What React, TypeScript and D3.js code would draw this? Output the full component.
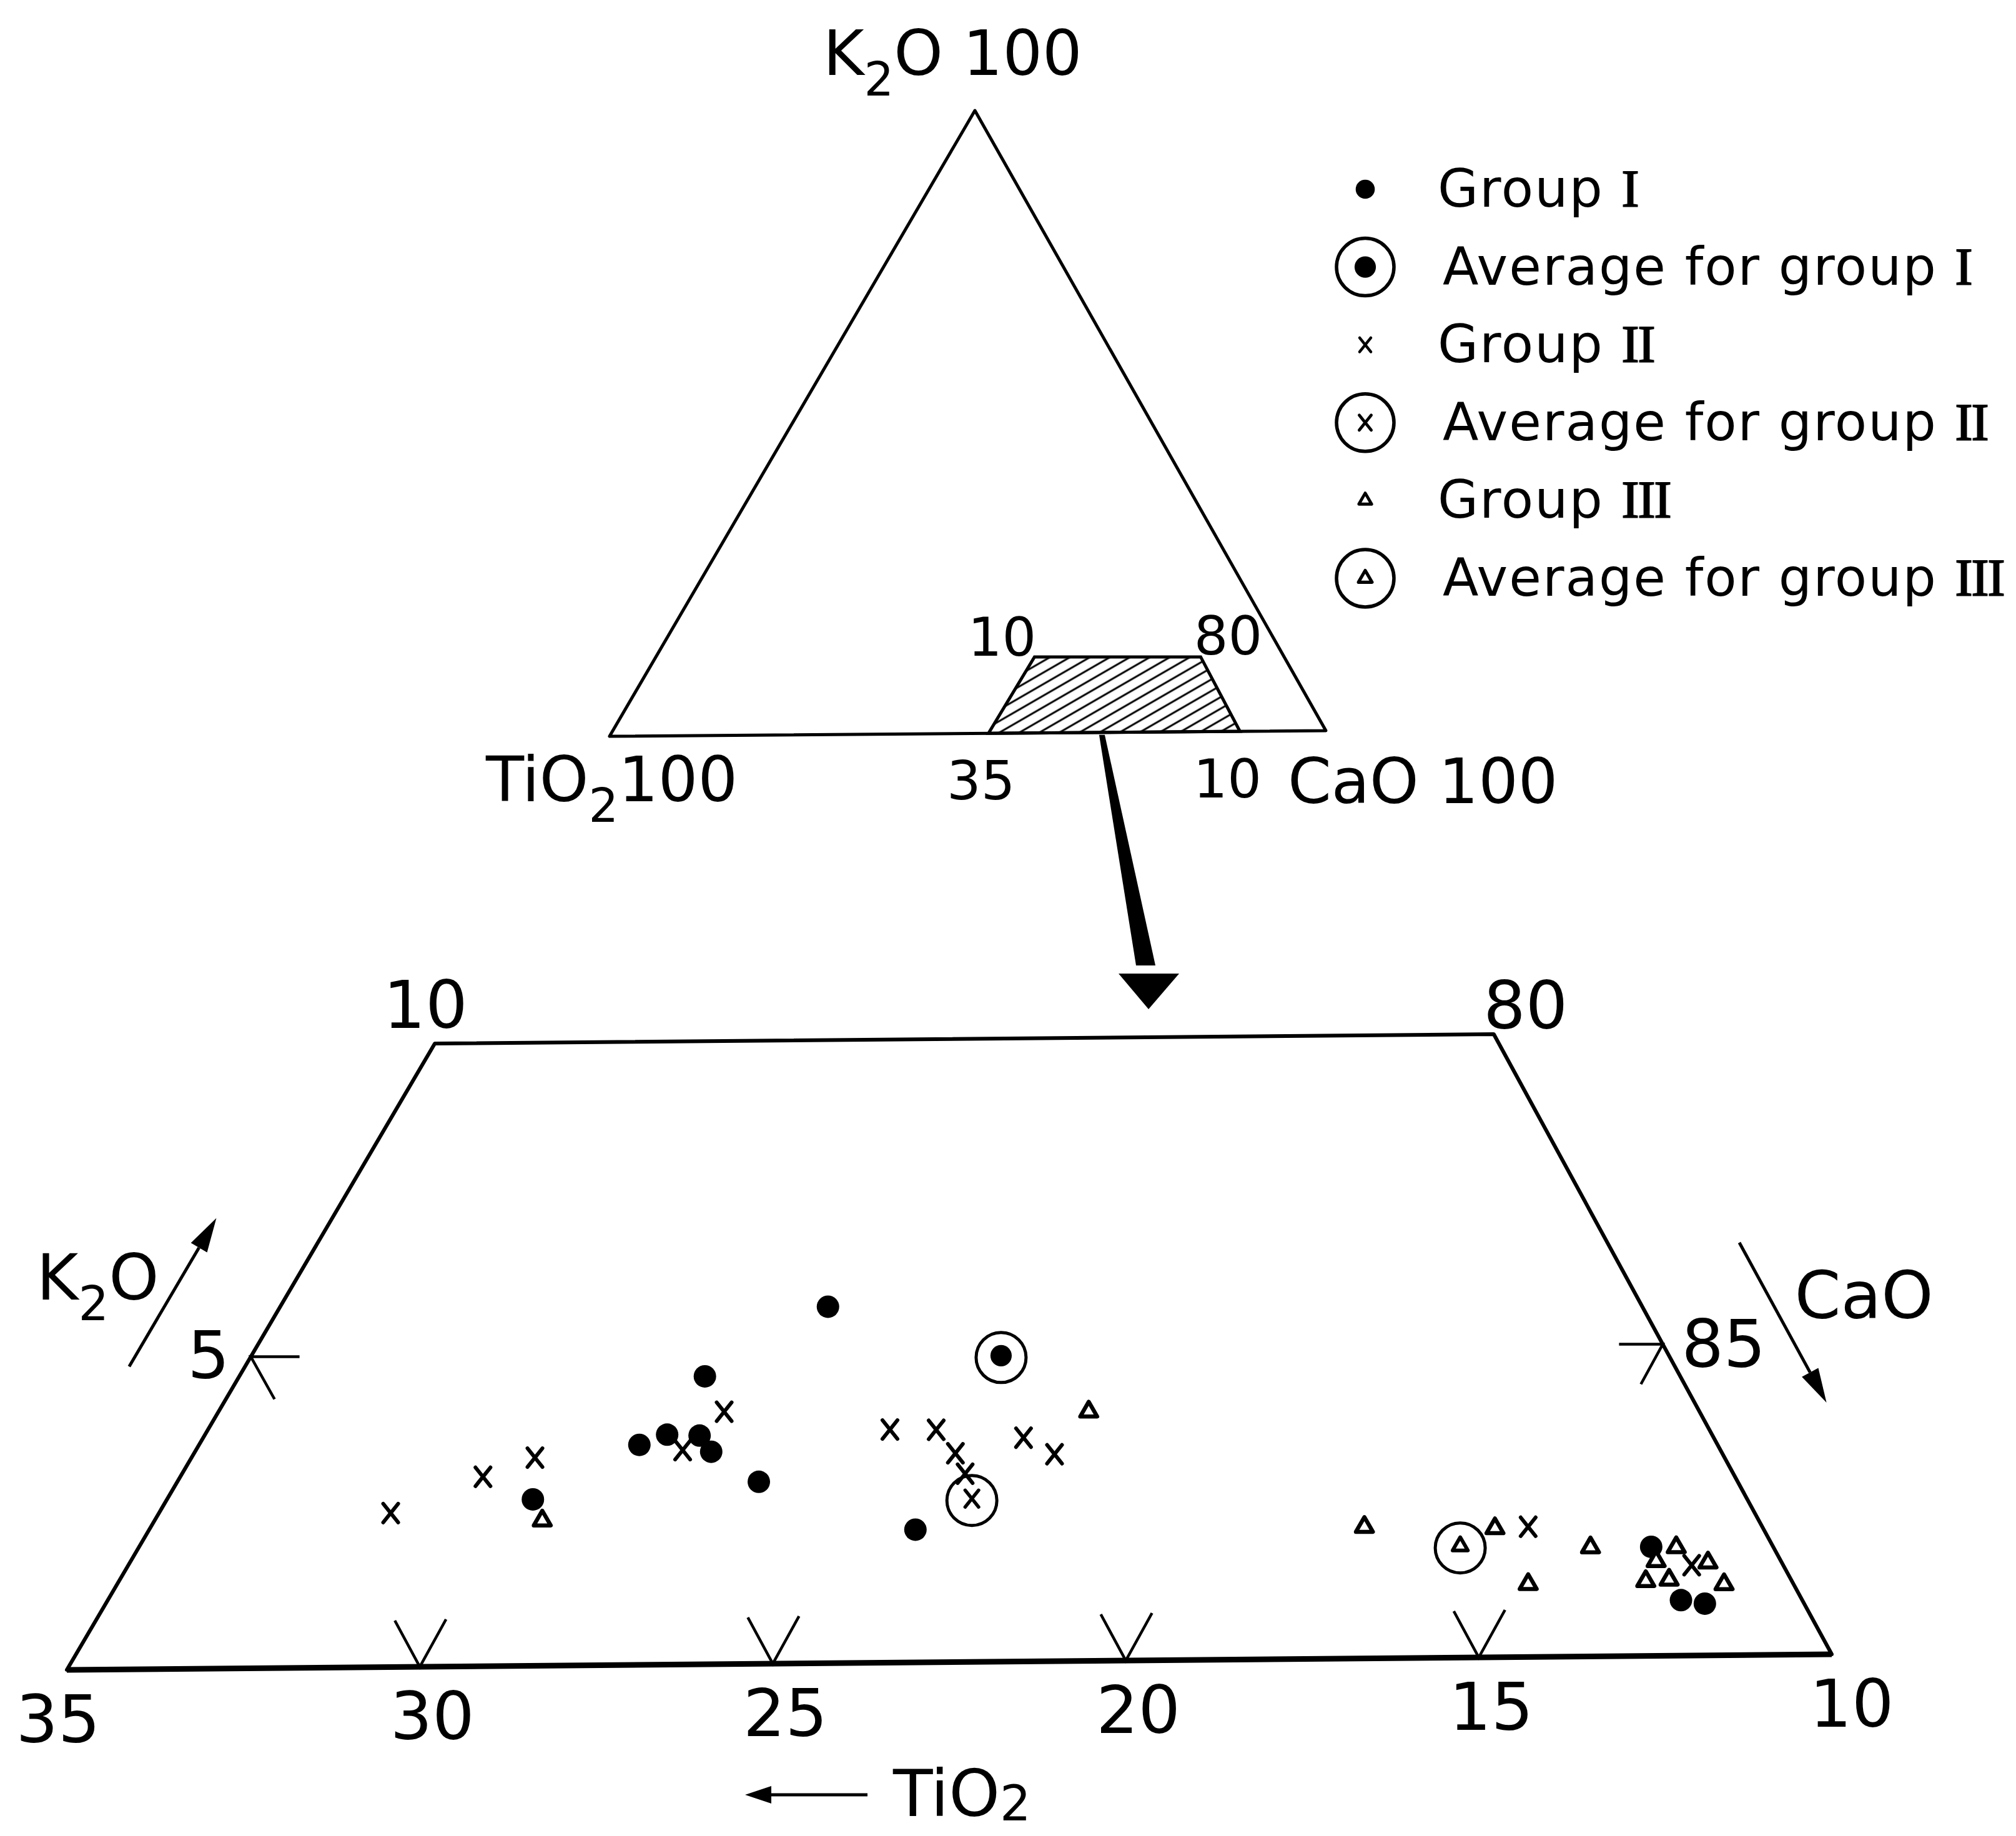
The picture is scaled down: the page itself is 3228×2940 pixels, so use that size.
import { useRef, useEffect } from "react";
import * as d3 from "d3";

const W = 3228;
const H = 2940;

// enlarged window: [TiO2 %, K2O %]  (CaO = 100 - TiO2 - K2O)
const groupI = [
  [27.12, 2.67], [23.75, 4.62], [25.2, 3.53], [24.73, 3.69], [24.28, 3.67],
  [24.24, 3.41], [23.8, 2.92], [21.48, 5.72], [21.96, 2.13], [11.72, 1.75],
  [11.71, 0.89], [11.4, 0.83],
];
const groupII = [
  [29.23, 2.47], [27.65, 3.04], [26.77, 3.34], [23.75, 4.05], [24.63, 3.44],
  [21.55, 3.74], [20.9, 3.73], [20.81, 3.35], [20.83, 3.02], [19.73, 3.59],
  [19.42, 3.32], [13.3, 2.09], [11.29, 1.45],
];
const groupIII = [
  [27.15, 2.33], [18.61, 4.0], [15.61, 2.11], [13.78, 2.07], [12.58, 1.75],
  [13.74, 1.17], [11.37, 1.74], [11.76, 1.52], [12.06, 1.2], [11.72, 1.22],
  [11.04, 1.49], [10.98, 1.14],
];
const avgI = [19.43, 4.88];
const avgII = [20.94, 2.59];
const avgIII = [14.42, 1.76];

const tiTicks = [35, 30, 25, 20, 15, 10];
const tiMarks = [30, 25, 20, 15];

// schematic window drawn in the small triangle: [TiO2, CaO, K2O]
const insetCorners = [
  [47.1, 52.9, 0],
  [12, 88, 0],
  [11.6, 76.4, 12],
  [34.7, 53.1, 12.2],
];
const insetLabels = ["35", "10", "80", "10"];

const legendItems = [
  { kind: "dot", avg: false, text: "Group ", num: "I" },
  { kind: "dot", avg: true, text: "Average for group ", num: "I" },
  { kind: "cross", avg: false, text: "Group ", num: "II" },
  { kind: "cross", avg: true, text: "Average for group ", num: "II" },
  { kind: "tri", avg: false, text: "Group ", num: "III" },
  { kind: "tri", avg: true, text: "Average for group ", num: "III" },
];

const font = "DejaVu Sans";
const serif = "Liberation Serif";

function marker(g: any, kind: string, x: number, y: number, s = 1) {
  if (kind === "dot") {
    g.append("circle").attr("cx", x).attr("cy", y).attr("r", 18 * s).attr("fill", "#000");
  } else if (kind === "cross") {
    const a = 12 * s, b = 15 * s;
    g.append("path")
      .attr("d", `M${x - a},${y - b}L${x + a},${y + b}M${x + a},${y - b}L${x - a},${y + b}`)
      .attr("stroke", "#000")
      .attr("stroke-width", 6 * s)
      .attr("stroke-linecap", "round");
  } else {
    g.append("path")
      .attr("d", d3.symbol(d3.symbolTriangle, 320 * s * s)())
      .attr("transform", `translate(${x},${y})`)
      .attr("fill", "#fff")
      .attr("stroke", "#000")
      .attr("stroke-width", 6.5 * s)
      .attr("stroke-linejoin", "round");
  }
}

// text pieces: [string, subscript shift (em) or true, serif?, letter-spacing]
function label(g: any, x: number, y: number, parts: any[], size: number, anchor = "start", spacing = 0) {
  const t = g.append("text")
    .attr("x", x).attr("y", y)
    .attr("font-size", size)
    .attr("font-family", font)
    .attr("text-anchor", anchor)
    .attr("letter-spacing", spacing)
    .attr("fill", "#000");
  let shift = 0;
  parts.forEach(([s, sub, ser, ls]) => {
    const off = sub ? size * (typeof sub === "number" ? sub : 0.33) : 0;
    const ts = t.append("tspan").attr("dy", off - shift).text(s);
    if (sub) ts.attr("font-size", size * 0.75);
    if (ser) ts.attr("font-family", serif).attr("stroke", "#000").attr("stroke-width", 2);
    if (ls !== undefined) ts.attr("letter-spacing", ls);
    shift = off;
  });
  return t;
}

function arrowHead(g: any, from: number[], to: number[], len = 55, half = 15) {
  const dx = to[0] - from[0], dy = to[1] - from[1];
  const L = Math.hypot(dx, dy);
  const ux = dx / L, uy = dy / L;
  const bx = to[0] - ux * len, by = to[1] - uy * len;
  g.append("path")
    .attr("d", `M${to[0]},${to[1]}L${bx - uy * half},${by + ux * half}L${bx + uy * half},${by - ux * half}Z`)
    .attr("fill", "#000");
  g.append("line")
    .attr("x1", from[0]).attr("y1", from[1])
    .attr("x2", bx).attr("y2", by)
    .attr("stroke", "#000").attr("stroke-width", 5);
}

function App() {
  const ref = useRef<SVGSVGElement | null>(null);

  useEffect(() => {
    if (!ref.current) return;
    const svg = d3.select(ref.current).html("");
    svg.append("rect").attr("width", W).attr("height", H).attr("fill", "#fff");

    const defs = svg.append("defs");
    const pat = defs.append("pattern")
      .attr("id", "hatch")
      .attr("patternUnits", "userSpaceOnUse")
      .attr("width", 16).attr("height", 16)
      .attr("patternTransform", "rotate(-30)");
    pat.append("rect").attr("x", -1).attr("y", 6.5).attr("width", 18).attr("height", 3).attr("fill", "#000");

    // ---------- small full triangle ----------
    const T = { ti: [976, 1179], ca: [2123, 1170], k: [1561, 177] };
    const up = (ti: number, ca: number, k: number) => [
      (ti * T.ti[0] + ca * T.ca[0] + k * T.k[0]) / 100,
      (ti * T.ti[1] + ca * T.ca[1] + k * T.k[1]) / 100,
    ];
    const top = svg.append("g");
    top.append("path")
      .attr("d", d3.line()([up(100, 0, 0), up(0, 100, 0), up(0, 0, 100)] as any) + "Z")
      .attr("fill", "none").attr("stroke", "#000").attr("stroke-width", 5)
      .attr("stroke-linejoin", "round");
    const inset = insetCorners.map((c) => up(c[0], c[1], c[2]));
    top.append("path")
      .attr("d", d3.line()(inset as any) + "Z")
      .attr("fill", "url(#hatch)").attr("stroke", "#000").attr("stroke-width", 5);

    const K0 = up(0, 0, 100), Ti0 = up(100, 0, 0), Ca0 = up(0, 100, 0);
    label(top, K0[0] - 243, K0[1] - 57, [["K"], ["2", true], ["O 100"]], 100);
    label(top, Ti0[0] - 198, Ti0[1] + 104, [["TiO"], ["2", true], ["100"]], 100);
    label(top, Ca0[0] - 61, Ca0[1] + 116, [["CaO 100"]], 100);
    const insetOff = [[-12, 106], [-20, 106], [44, -4], [-52, -2]];
    inset.forEach((p, i) => {
      label(top, p[0] + insetOff[i][0], p[1] + insetOff[i][1], [[insetLabels[i]]], 86, "middle");
    });

    // ---------- enlarged window ----------
    const sx = d3.scaleLinear().domain([65, 90]).range([107, 2933]);
    const sy = d3.scaleLinear().domain([65, 90]).range([2674, 2649]);
    const kx = d3.scaleLinear().domain([0, 10]).range([0, 24]);
    const ky = d3.scaleLinear().domain([0, 10]).range([0, -998]);
    const proj = (ti: number, k: number) => {
      const s = 100 - ti - k / 2;
      return [sx(s) + kx(k), sy(s) + ky(k)];
    };

    // arrow from the small window down to the big one
    const a0 = inset[0], a1 = inset[1];
    const st = [a0[0] + (a1[0] - a0[0]) * 0.45, a0[1] + (a1[1] - a0[1]) * 0.45 + 4];
    const tl = proj(25, 10), tr = proj(10, 10);
    const tip = [tl[0] + (tr[0] - tl[0]) * 0.674, tl[1] + (tr[1] - tl[1]) * 0.674 - 45];
    top.append("path")
      .attr("d", `M${st[0] - 4},${st[1]}L${st[0] + 5},${st[1]}L${tip[0] + 11},${tip[1] - 70}L${tip[0] - 20},${tip[1] - 70}Z`)
      .attr("fill", "#000");
    top.append("path")
      .attr("d", `M${tip[0]},${tip[1]}L${tip[0] - 48},${tip[1] - 57}L${tip[0] + 49},${tip[1] - 57}Z`)
      .attr("fill", "#000");

    const g = svg.append("g");
    const corners = [proj(35, 0), proj(10, 0), proj(10, 10), proj(25, 10)];
    g.append("path")
      .attr("d", d3.line()(corners as any) + "Z")
      .attr("fill", "none").attr("stroke", "#000").attr("stroke-width", 6)
      .attr("stroke-linejoin", "round");
    g.append("line")
      .attr("x1", corners[0][0]).attr("y1", corners[0][1])
      .attr("x2", corners[1][0]).attr("y2", corners[1][1])
      .attr("stroke", "#000").attr("stroke-width", 9);

    // V marks on the TiO2 edge
    tiMarks.forEach((t) => {
      const p = proj(t, 0);
      g.append("path")
        .attr("d", `M${p[0] - 40},${p[1] - 74}L${p[0]},${p[1]}L${p[0] + 42},${p[1] - 76}`)
        .attr("fill", "none").attr("stroke", "#000").attr("stroke-width", 4.5);
    });
    tiTicks.forEach((t) => {
      const p = proj(t, 0);
      const dx = t === 35 ? -14 : t === 10 ? 32 : 20;
      label(g, p[0] + dx, p[1] + 116, [[String(t)]], 106, "middle");
    });

    // K2O = 5 marks on the side edges
    const pl = proj(30, 5), pr = proj(10, 5);
    g.append("path")
      .attr("d", `M${pl[0] + 78},${pl[1]}L${pl[0]},${pl[1]}L${pl[0] + 38},${pl[1] + 68}`)
      .attr("fill", "none").attr("stroke", "#000").attr("stroke-width", 4.5);
    g.append("path")
      .attr("d", `M${pr[0] - 70},${pr[1]}L${pr[0]},${pr[1]}L${pr[0] - 35},${pr[1] + 64}`)
      .attr("fill", "none").attr("stroke", "#000").attr("stroke-width", 4.5);
    label(g, pl[0] - 34, pl[1] + 34, [["5"]], 106, "end");
    label(g, pr[0] + 30, pr[1] + 36, [["85"]], 106);
    label(g, tl[0] - 15, tl[1] - 25, [["10"]], 106, "middle");
    label(g, tr[0] + 51, tr[1] - 9, [["80"]], 106, "middle");

    // direction arrows
    arrowHead(g, proj(31.79, 4.86), proj(29.42, 7.23));
    label(g, pl[0] - 343, pl[1] - 92, [["K"], ["2", true], ["O"]], 102);
    arrowHead(g, proj(8.14, 6.62), proj(8.14, 4.04));
    label(g, pr[0] + 211, pr[1] - 42, [["CaO"]], 106);

    const mid = proj(22.5, 0);
    label(g, mid[0] - 90, 2908, [["TiO"], ["2", 0.07]], 104);
    arrowHead(g, [mid[0] - 131, 2874], [mid[0] - 327, 2874], 42, 14);

    // data
    const pts = g.append("g");
    groupI.forEach((d) => { const p = proj(d[0], d[1]); marker(pts, "dot", p[0], p[1]); });
    groupII.forEach((d) => { const p = proj(d[0], d[1]); marker(pts, "cross", p[0], p[1]); });
    groupIII.forEach((d) => { const p = proj(d[0], d[1]); marker(pts, "tri", p[0], p[1]); });
    [[avgI, "dot"], [avgII, "cross"], [avgIII, "tri"]].forEach(([d, kind]: any) => {
      const p = proj(d[0], d[1]);
      pts.append("circle").attr("cx", p[0]).attr("cy", p[1]).attr("r", 40)
        .attr("fill", "none").attr("stroke", "#000").attr("stroke-width", 5);
      marker(pts, kind, p[0], p[1] - 3, kind === "dot" ? 0.95 : 0.9);
    });

    // legend
    const ly = d3.scaleLinear().domain([0, legendItems.length - 1]).range([303, 926]);
    const leg = svg.append("g");
    legendItems.forEach((it, i) => {
      const y = ly(i);
      if (it.avg) {
        leg.append("circle").attr("cx", 2186).attr("cy", y).attr("r", 46)
          .attr("fill", "none").attr("stroke", "#000").attr("stroke-width", 5.5);
        marker(leg, it.kind, 2186, y, it.kind === "dot" ? 0.95 : 0.8);
      } else {
        marker(leg, it.kind, 2186, y, it.kind === "dot" ? 0.85 : 0.75);
      }
      label(leg, it.avg ? 2310 : 2302, y + 28, [[it.text], [it.num, false, true, -2]], 84, "start", 2);
    });
  }, []);

  return (
    <svg
      ref={ref}
      width={W}
      height={H}
      style={{ position: "absolute", left: 0, top: 0, display: "block" }}
    ></svg>
  );
}

export default App;
